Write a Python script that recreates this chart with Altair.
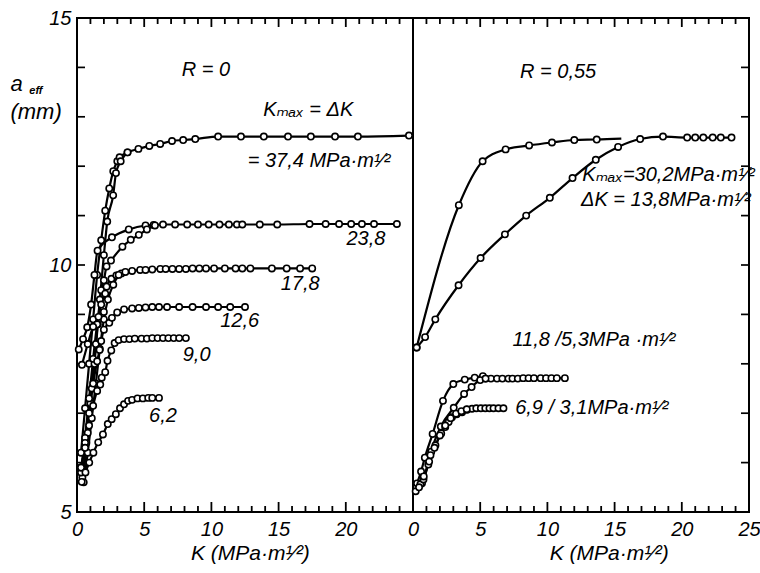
import altair as alt
import pandas as pd

# ---------------- data (K in MPa·m^1/2, a_eff in mm) ----------------
# Panel R = 0
r0_374a_K = [0.3, 0.6, 0.9, 1.2, 1.5, 1.8, 2.1, 2.4, 2.7, 3.0, 3.17, 3.76, 4.57, 5.38, 6.19, 7.07, 7.9, 8.8, 10.5, 12.2, 13.9, 15.7, 17.4, 19.2, 20.9, 24.7]
r0_374a_a = [6.2, 7.1, 8.0, 8.9, 9.8, 10.5, 11.1, 11.55, 11.9, 12.1, 12.18, 12.28, 12.35, 12.41, 12.45, 12.51, 12.53, 12.55, 12.6, 12.6, 12.6, 12.6, 12.6, 12.6, 12.6, 12.62]
r0_374b_K = [0.5, 0.8, 1.1, 1.4, 1.7, 2.0, 2.25, 2.69, 2.9, 3.25, 3.76]
r0_374b_a = [5.8, 6.6, 7.5, 8.4, 9.3, 10.2, 10.88, 11.41, 11.86, 12.1, 12.28]

r0_238a_K = [0.13, 0.45, 0.76, 1.05, 1.3, 1.53, 2.6, 3.85, 5.1, 5.7, 6.4, 7.3, 8.2, 9.0, 9.8, 10.6, 11.3, 11.9, 12.3, 13.6, 14.9, 17.3, 18.5, 19.5, 20.4, 21.2, 22.1, 23.8]
r0_238a_a = [8.29, 8.5, 8.74, 9.2, 9.8, 10.29, 10.56, 10.72, 10.8, 10.81, 10.82, 10.82, 10.82, 10.82, 10.82, 10.82, 10.82, 10.82, 10.82, 10.82, 10.82, 10.83, 10.83, 10.83, 10.83, 10.83, 10.83, 10.83]
r0_238b_K = [0.4, 0.7, 1.0, 1.3, 1.55, 1.8, 2.0, 2.2, 2.53, 3.38, 4.0, 4.6, 5.2, 5.8]
r0_238b_a = [5.7, 6.4, 7.2, 8.0, 8.8, 9.49, 9.69, 9.97, 10.09, 10.37, 10.51, 10.61, 10.72, 10.8]

r0_178a_K = [0.3, 0.6, 0.9, 1.2, 1.5, 1.8, 2.1, 2.2, 2.56, 2.93, 3.3, 3.6, 4.1, 4.7, 5.1, 5.6, 6.2, 6.6, 7.1, 7.6, 8.1, 8.6, 9.1, 9.6, 10.2, 11.0, 11.8, 12.3, 12.9, 14.5, 15.6, 16.6, 17.5]
r0_178a_a = [5.8, 6.5, 7.3, 8.1, 8.8, 9.2, 9.42, 9.56, 9.72, 9.79, 9.83, 9.86, 9.88, 9.9, 9.9, 9.91, 9.92, 9.92, 9.92, 9.92, 9.92, 9.93, 9.93, 9.93, 9.93, 9.93, 9.93, 9.93, 9.93, 9.93, 9.93, 9.93, 9.93]
r0_178b_K = [0.5, 0.8, 1.1, 1.4, 1.7, 2.0, 2.3, 2.7, 3.1]
r0_178b_a = [5.6, 6.2, 6.9, 7.6, 8.3, 8.9, 9.3, 9.6, 9.8]

r0_126a_K = [0.3, 0.6, 0.9, 1.2, 1.5, 1.68, 1.8, 2.0, 2.4, 2.6, 2.99, 3.5, 4.1, 4.6, 5.1, 5.6, 6.1, 6.7, 7.6, 8.6, 9.6, 10.5, 11.4, 12.5]
r0_126a_a = [5.9, 6.4, 7.0, 7.6, 8.05, 8.28, 8.46, 8.69, 8.83, 8.93, 9.04, 9.1, 9.12, 9.13, 9.14, 9.15, 9.15, 9.15, 9.15, 9.15, 9.15, 9.15, 9.15, 9.15]
r0_126b_K = [0.37, 0.8, 1.2, 1.6, 2.0]
r0_126b_a = [7.98, 8.4, 8.75, 8.95, 9.05]

r0_90_K = [0.3, 0.6, 0.9, 1.2, 1.5, 1.73, 1.84, 2.1, 2.27, 2.55, 2.8, 3.1, 3.5, 3.9, 4.3, 4.8, 5.2, 5.6, 6.0, 6.4, 6.8, 7.2, 7.6, 8.1]
r0_90_a = [5.9, 6.3, 6.75, 7.15, 7.45, 7.58, 7.72, 7.83, 8.06, 8.27, 8.42, 8.48, 8.5, 8.5, 8.51, 8.51, 8.51, 8.52, 8.52, 8.52, 8.52, 8.52, 8.52, 8.52]

r0_62_K = [0.35, 0.63, 0.91, 1.22, 1.58, 1.93, 2.29, 2.58, 2.89, 3.2, 3.5, 3.8, 4.1, 4.5, 4.9, 5.3, 5.6, 6.1]
r0_62_a = [5.61, 5.8, 6.0, 6.2, 6.41, 6.57, 6.78, 6.88, 6.98, 7.1, 7.18, 7.25, 7.27, 7.3, 7.3, 7.31, 7.31, 7.31]

# Panel R = 0.55
r55_302a_K = [0.27, 3.41, 5.18, 6.89, 8.64, 10.34, 12.0, 13.67]
r55_302a_a = [8.33, 11.21, 12.1, 12.34, 12.42, 12.48, 12.53, 12.54]
r55_302a_line_end_K = [15.5]          # curve drawn beyond the last measured point
r55_302a_line_end_a = [12.56]
r55_302b_K = [0.27, 0.9, 1.66, 3.39, 5.03, 6.84, 8.42, 10.18, 11.87, 13.6, 15.26, 16.9, 18.6, 20.4, 21.0, 21.6, 22.3, 22.9, 23.7]
r55_302b_a = [8.33, 8.54, 8.9, 9.59, 10.14, 10.62, 11.0, 11.36, 11.76, 12.13, 12.39, 12.55, 12.6, 12.58, 12.58, 12.58, 12.58, 12.58, 12.58]

r55_118a_K = [0.3, 0.6, 0.88, 1.46, 2.23, 3.0, 3.85, 4.59, 5.2, 5.4, 5.8, 6.25, 6.65, 7.1, 7.4, 7.8, 8.2, 8.6, 9.0, 9.5, 9.9, 10.3, 10.7, 11.3]
r55_118a_a = [5.58, 5.82, 6.1, 6.58, 7.25, 7.59, 7.68, 7.72, 7.75, 7.7, 7.7, 7.7, 7.7, 7.7, 7.7, 7.7, 7.71, 7.71, 7.71, 7.71, 7.71, 7.71, 7.71, 7.71]
r55_118b_K = [0.67, 1.14, 1.36, 2.07, 3.03, 3.8, 4.36, 5.0, 5.4]
r55_118b_a = [5.58, 5.96, 6.22, 6.73, 7.11, 7.39, 7.53, 7.67, 7.7]

r55_69a_K = [0.55, 0.78, 1.3, 1.67, 2.1, 2.4, 2.65, 2.9, 3.25, 3.65, 4.02, 4.39, 4.71, 5.05, 5.38, 5.69, 5.99, 6.36, 6.73]
r55_69a_a = [5.56, 5.66, 6.15, 6.35, 6.59, 6.72, 6.82, 6.92, 6.98, 7.02, 7.07, 7.09, 7.1, 7.1, 7.1, 7.1, 7.1, 7.1, 7.1]
r55_69b_K = [0.2, 0.45, 0.8, 1.2, 1.6, 2.0, 2.4, 2.8, 3.2, 3.6, 4.0]
r55_69b_a = [5.42, 5.5, 5.72, 6.02, 6.3, 6.55, 6.75, 6.9, 6.99, 7.04, 7.08]

# axis tick values
panel_split = 25
minor_ticks = [v for v in range(1, 50) if v % 5 != 0]
major_ticks = [5, 10, 15, 20, 30, 35, 40, 45]
y_ticks = [6, 7, 8, 9, 10, 11, 12, 13, 14]
x_label_values = [0, 5, 10, 15, 20, 25, 30, 35, 40, 45, 50]

# ---------------- assemble ----------------
PANEL_OFFSET = {"R0": 0, "R55": 25}   # right panel drawn on the same x scale, shifted by 25
series = [
    ("374a", "R0", r0_374a_K, r0_374a_a), ("374b", "R0", r0_374b_K, r0_374b_a),
    ("238a", "R0", r0_238a_K, r0_238a_a), ("238b", "R0", r0_238b_K, r0_238b_a),
    ("178a", "R0", r0_178a_K, r0_178a_a), ("178b", "R0", r0_178b_K, r0_178b_a),
    ("126a", "R0", r0_126a_K, r0_126a_a), ("126b", "R0", r0_126b_K, r0_126b_a),
    ("90", "R0", r0_90_K, r0_90_a), ("62", "R0", r0_62_K, r0_62_a),
    ("302a", "R55", r55_302a_K, r55_302a_a), ("302b", "R55", r55_302b_K, r55_302b_a),
    ("118a", "R55", r55_118a_K, r55_118a_a), ("118b", "R55", r55_118b_K, r55_118b_a),
    ("69a", "R55", r55_69a_K, r55_69a_a), ("69b", "R55", r55_69b_K, r55_69b_a),
]
rows = []
for name, panel, ks, as_ in series:
    for k, a in zip(ks, as_):
        rows.append({"series": name, "K": k, "x": k + PANEL_OFFSET[panel], "y": a})
pts = pd.DataFrame(rows)
extra = pd.DataFrame([{"series": "302a", "K": k, "x": k + PANEL_OFFSET["R55"], "y": a}
                      for k, a in zip(r55_302a_line_end_K, r55_302a_line_end_a)])
line_df = pd.concat([pts, extra], ignore_index=True)

FONT = "Liberation Sans, DejaVu Sans, sans-serif"
W, H = 672, 494
X0, X1, Y0, Y1 = 0, 50, 5, 15
PX_X = W / (X1 - X0)   # pixels per x unit

xscale = alt.Scale(domain=[X0, X1], nice=False, zero=False)
yscale = alt.Scale(domain=[Y0, Y1], nice=False, zero=False)
x_axis = alt.Axis(values=x_label_values, ticks=False, domain=False, grid=False,
                  labelExpr="datum.value >= 25 ? format(datum.value - 25, 'd') : format(datum.value, 'd')",
                  labelFlush=False, labelOverlap=False, labelPadding=7,
                  labelFont=FONT, labelFontStyle="italic", labelFontSize=20, labelColor="black")
y_axis = alt.Axis(values=[5, 10, 15], ticks=False, domain=False, grid=False,
                  labelPadding=6, labelFont=FONT, labelFontStyle="italic",
                  labelFontSize=20, labelColor="black")
X = alt.X("x:Q", scale=xscale, title=None, axis=x_axis)
Y = alt.Y("y:Q", scale=yscale, title=None, axis=y_axis)

# inward tick marks on the top / bottom borders, drawn as short vertical-stroke symbols
# (a custom symbol path "M0,0L0,-2" is sqrt(size) pixels long, pointing up from its anchor)
def xticks(vals, at_y, length_px, direction, tag):
    df = pd.DataFrame({"tv": vals, "side": [tag] * len(vals)})
    path = "M0,0L0,-2" if direction > 0 else "M0,0L0,2"
    return alt.Chart(df).mark_point(
        shape=path, size=length_px ** 2, filled=False, stroke="black",
        strokeWidth=1.8, opacity=1
    ).encode(
        x=alt.X("tv:Q", scale=xscale, title=None, axis=x_axis),
        y=alt.Y(datum=at_y, scale=yscale, axis=y_axis, title=None))

def yticks(vals, at_x, length_px, direction):
    return alt.Chart(pd.DataFrame({"y": vals})).mark_rule(color="black", strokeWidth=1.7).encode(
        y=Y,
        x=alt.X(datum=at_x, scale=xscale, axis=x_axis, title=None),
        x2=alt.X2(datum=at_x + direction * length_px / PX_X))

tick_layers = [
    xticks(minor_ticks, Y0, 6, 1, "b"), xticks(major_ticks, Y0, 10, 1, "B"),
    xticks(minor_ticks, Y1, 6, -1, "t"), xticks(major_ticks, Y1, 9, -1, "T"),
    yticks(y_ticks, X0, 8, 1), yticks(y_ticks, X1, 8, -1),
]

lines = alt.Chart(line_df).mark_line(
    interpolate="monotone", color="black", strokeWidth=2.2
).encode(x=X, y=Y, detail="series:N", order="K:Q")

points = alt.Chart(pts).mark_point(
    shape="circle", size=40, fill="white", stroke="black", strokeWidth=1.6,
    opacity=1, fillOpacity=1
).encode(x=X, y=Y)

# boundary between the two panels (full-height rule at x = 25)
divider = alt.Chart(pts).mark_rule(color="black", strokeWidth=2).encode(
    x=alt.X(datum=panel_split, scale=xscale, axis=x_axis, title=None))

# annotations (positions in data units of the combined x scale)
ann_center = pd.DataFrame([
    {"x": 9.6, "y": 13.94, "t": "R = 0"},
    {"x": 21.5, "y": 10.53, "t": "23,8"},
    {"x": 16.6, "y": 9.61, "t": "17,8"},
    {"x": 12.1, "y": 8.86, "t": "12,6"},
    {"x": 8.9, "y": 8.17, "t": "9,0"},
    {"x": 6.4, "y": 6.94, "t": "6,2"},
    {"x": 35.8, "y": 13.91, "t": "R = 0,55"},
])
ann_left = pd.DataFrame([
    {"x": 13.85, "y": 13.13, "t": "Kₘₐₓ = ΔK"},
    {"x": 12.7, "y": 12.1, "t": "= 37,4 MPa·m¹⁄²"},
    {"x": 37.6, "y": 11.82, "t": "Kₘₐₓ=30,2MPa·m¹⁄²"},
    {"x": 37.5, "y": 11.32, "t": "ΔK = 13,8MPa·m¹⁄²"},
    {"x": 32.4, "y": 8.49, "t": "11,8 /5,3MPa ·m¹⁄²"},
    {"x": 32.6, "y": 7.11, "t": "6,9 / 3,1MPa·m¹⁄²"},
])
ann_titles = pd.DataFrame([
    {"x": 12.9, "y": 4.15, "t": "K (MPa·m¹⁄²)"},
    {"x": 39.6, "y": 4.15, "t": "K (MPa·m¹⁄²)"},
])
ann_ylab_big = pd.DataFrame([{"x": -4.95, "y": 13.52, "t": "a"},
                             {"x": -4.95, "y": 12.95, "t": "(mm)"}])
ann_ylab_sub = pd.DataFrame([{"x": -3.55, "y": 13.47, "t": "eff"}])

txt = dict(font=FONT, fontStyle="italic", color="black")
texts = [
    alt.Chart(ann_center).mark_text(fontSize=20, align="center", baseline="middle", **txt).encode(x=X, y=Y, text="t:N"),
    alt.Chart(ann_left).mark_text(fontSize=20, align="left", baseline="middle", **txt).encode(x=X, y=Y, text="t:N"),
    alt.Chart(ann_titles).mark_text(fontSize=21, align="center", baseline="middle", **txt).encode(x=X, y=Y, text="t:N"),
    alt.Chart(ann_ylab_big).mark_text(fontSize=22, align="left", baseline="alphabetic", **txt).encode(x=X, y=Y, text="t:N"),
    alt.Chart(ann_ylab_sub).mark_text(fontSize=11, align="left", baseline="alphabetic", fontWeight="bold", **txt).encode(x=X, y=Y, text="t:N"),
]

chart = alt.layer(*tick_layers, divider, lines, points, *texts).properties(
    width=W, height=H,
    autosize=alt.AutoSizeParams(type="none"),
    padding={"left": 77, "top": 18, "right": 11, "bottom": 61},
    background="white",
).configure_view(stroke="black", strokeWidth=2)

chart.save("out.html", embed_options={"renderer": "svg", "actions": False})
